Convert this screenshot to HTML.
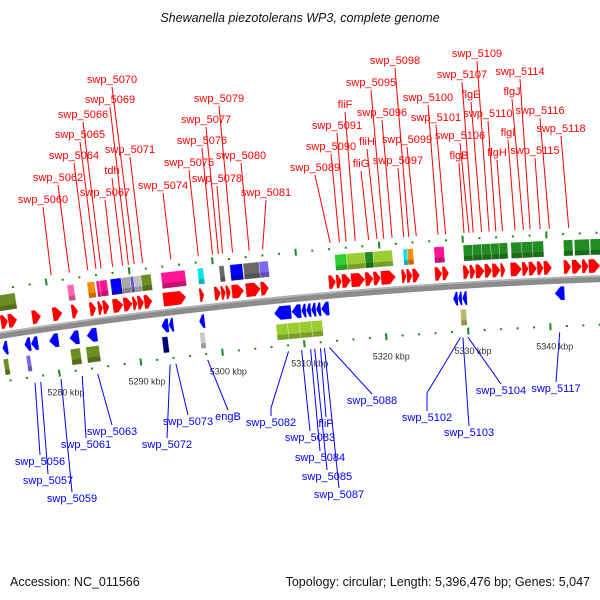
<!DOCTYPE html>
<html><head><meta charset="utf-8"><style>
html,body{margin:0;padding:0;background:#fff;}
svg{display:block;font-family:"Liberation Sans","DejaVu Sans",sans-serif;}
</style></head><body>
<svg id="map" width="600" height="600" viewBox="0 0 600 600">
<text x="300" y="22" text-anchor="middle" font-size="12.5" font-style="italic" fill="#111">Shewanella piezotolerans WP3, complete genome</text>
<g id="track"></g>
<g id="labels"></g>
<text x="10" y="586" font-size="12.5" fill="#111">Accession: NC_011566</text>
<text x="590" y="586" text-anchor="end" font-size="12.5" fill="#111">Topology: circular; Length: 5,396,476 bp; Genes: 5,047</text>
</svg>
<script>
// forward-strand genes (kbp)
const fwdStart=[5273.9,5274.8,5277.7,5280.2,5282.5,5284.7,5285.7,5286.3,5287.5,5288.8,5289.9,5290.5,5291.3,5293.6,5298.0,5299.8,5300.6,5301.2,5301.9,5303.6,5305.4,5313.6,5314.5,5315.2,5316.3,5318.0,5319.0,5319.9,5322.4,5323.0,5323.7,5326.4,5327.3,5329.8,5330.6,5331.3,5332.4,5333.3,5334.3,5335.5,5336.9,5337.7,5338.7,5339.5,5341.9,5342.9,5344.1,5344.9];
const fwdEnd=[5274.8,5275.9,5278.8,5281.4,5283.3,5285.5,5286.3,5287.1,5288.8,5289.9,5290.5,5291.3,5292.3,5296.4,5298.6,5300.6,5301.2,5301.8,5303.4,5305.4,5306.4,5314.5,5315.2,5316.3,5318.0,5319.0,5319.9,5321.7,5323.0,5323.7,5324.6,5327.3,5328.1,5330.6,5331.3,5332.4,5333.3,5334.3,5334.9,5336.9,5337.7,5338.7,5339.5,5340.5,5342.8,5344.1,5344.9,5346.3];
// reverse-strand genes (kbp)
const revStart=[5273.6,5276.3,5277.1,5279.3,5281.8,5283.9,5293.0,5293.9,5297.6,5306.7,5308.8,5310.0,5310.6,5311.2,5311.8,5312.4,5328.4,5329.0,5329.5,5340.7];
const revEnd=[5274.3,5277.1,5278.0,5280.5,5283.0,5285.2,5293.9,5294.5,5298.3,5308.8,5310.0,5310.6,5311.2,5311.8,5312.4,5313.4,5329.0,5329.5,5330.1,5341.9];
// COG boxes
const fBoxStart=[5274.0,5282.4,5284.8,5285.9,5286.3,5287.6,5288.9,5290.0,5290.4,5291.3,5293.7,5298.1,5300.7,5302.0,5303.6,5305.5,5314.6,5316.0,5318.2,5319.2,5322.8,5323.3,5326.5,5330.0,5331.1,5332.2,5333.3,5334.3,5335.7,5337.0,5338.3,5342.0,5343.3,5345.2];
const fBoxEnd=[5276.1,5283.2,5285.7,5286.3,5287.2,5288.9,5290.0,5290.4,5291.3,5292.5,5296.6,5298.8,5301.3,5303.5,5305.5,5306.6,5316.0,5318.2,5319.2,5321.5,5323.3,5324.0,5327.7,5331.1,5332.2,5333.3,5334.3,5335.3,5337.0,5338.3,5339.6,5343.1,5345.1,5346.6];
const fBoxColor=["#6b8e23","#ff69b4","#ff8c00","#ff1493","#ff1493","#0000ff","#a9a9a9","#6a5acd","#c0c0c0","#6b8e23","#ff1493","#00e5ee","#696969","#0000ff","#696969","#7b68ee","#32cd32","#9acd32","#228b22","#9acd32","#00e5ee","#ff8c00","#ff1493","#228b22","#228b22","#228b22","#228b22","#228b22","#228b22","#228b22","#228b22","#228b22","#228b22","#228b22"];
const rBoxStart=[5273.5,5276.3,5281.7,5283.6,5292.9,5297.5,5306.8,5308.2,5309.6,5311.1,5329.2];
const rBoxEnd=[5274.1,5276.8,5282.9,5285.2,5293.6,5298.1,5308.2,5309.6,5311.1,5312.4,5329.9];
const rBoxColor=["#6b8e23","#7b68ee","#6b8e23","#6b8e23","#000080","#c8c8c8","#9acd32","#9acd32","#9acd32","#9acd32","#bdb76b"];
// scale ticks
const tickKbp=[5280,5290,5300,5310,5320,5330,5340];
const tickLabels=["5280 kbp","5290 kbp","5300 kbp","5310 kbp","5320 kbp","5330 kbp","5340 kbp"];
// top (forward) labels
const topNames=["swp_5060","swp_5062","swp_5064","swp_5065","swp_5066","swp_5067","tdh","swp_5069","swp_5070","swp_5071","swp_5074","swp_5075","swp_5076","swp_5077","swp_5078","swp_5079","swp_5080","swp_5081","swp_5089","swp_5090","swp_5091","fliF","fliG","fliH","swp_5095","swp_5096","swp_5097","swp_5098","swp_5099","swp_5100","swp_5101","flgB","swp_5106","swp_5107","flgE","swp_5109","swp_5110","flgH","flgI","flgJ","swp_5114","swp_5115","swp_5116","swp_5118"];
const topKbp=[5280.7,5282.9,5285.1,5286.1,5286.7,5288.1,5289.3,5290.0,5290.7,5291.7,5295.1,5298.4,5300.1,5300.8,5301.3,5302.5,5304.5,5306.1,5314.2,5315.3,5316.1,5317.2,5318.8,5319.8,5320.6,5321.6,5323.0,5323.6,5324.5,5327.1,5328.0,5330.2,5330.8,5331.3,5332.3,5333.2,5334.0,5334.8,5336.3,5337.3,5338.1,5339.3,5340.4,5342.7];
const topX=[43,58,74,80,83,105,112,110,112,130,163,189,202,206,217,219,241,266,315,331,337,345,361,367,371,382,398,395,407,428,436,459,460,462,471,477,488,497,508,512,520,535,540,561];
const topY=[203,181,159,138,118,196,174,103,83,153,189,166,144,123,182,102,159,196,171,150,129,108,167,145,86,116,164,64,143,101,121,159,139,78,98,57,117,156,136,95,75,154,114,132];
// bottom (reverse) labels
const botNames=["swp_5056","swp_5057","swp_5059","swp_5061","swp_5063","swp_5072","swp_5073","engB","swp_5082","swp_5083","swp_5084","swp_5085","fliP","swp_5087","swp_5088","swp_5102","swp_5103","swp_5104","swp_5117"];
const botKbp=[5276.9,5277.6,5280.1,5282.7,5284.6,5293.5,5294.2,5298.1,5308.0,5309.6,5310.7,5311.2,5311.9,5312.4,5313.0,5329.0,5329.3,5329.9,5341.1];
const botX=[40,48,72,86,112,167,188,228,271,310,320,327,326,339,372,427,469,501,556];
const botY=[465,484,502,448,435,448,425,420,426,441,461,480,427,498,404,421,436,394,392];
const botBend=[0,0,0,0,0,0,0,0,8,0,0,0,0,0,0,18,0,0,0];

const NS="http://www.w3.org/2000/svg";
const R=5000, PX=8.3, S=Math.sin(5.4*Math.PI/180), Cc=Math.cos(5.4*Math.PI/180);
const CX=300+R*S, CY=298+R*Cc;
const A0=Math.atan2(298-CY,300-CX);
function pt(k,v){const a=A0+(k-5310)*PX/R;const r=R-v;return [CX+r*Math.cos(a),CY+r*Math.sin(a)];}
function poly(pts){return pts.map(p=>p[0].toFixed(2)+","+p[1].toFixed(2)).join(" ");}
const track=document.getElementById('track');
const labels=document.getElementById('labels');
function mk(tag,attrs,parent){const e=document.createElementNS(NS,tag);for(const a in attrs)e.setAttribute(a,attrs[a]);parent.appendChild(e);return e;}

// backbone
(function(){const top=[],bot=[];for(let k=5270;k<=5350;k+=0.5){top.push(pt(k,-3.5));bot.push(pt(k,3.5));}
const e=mk('polygon',{points:poly(top.concat(bot.reverse())),fill:'#8c8c8c'},track);


const hl=[];for(let k=5270;k<=5350;k+=0.5)hl.push(pt(k,-2.5));
const h=mk('polyline',{points:poly(hl),fill:'none',stroke:'#b5b5b5','stroke-width':1.5},track);

})();

// dots
for(let k=5272;k<=5348;k+=2){for(const v of [-46,46]){
 const big=(k%10===0);const len=big?3.5:1;
 const p1=pt(k,v-len),p2=pt(k,v+len);
 const d=mk('line',{x1:p1[0],y1:p1[1],x2:p2[0],y2:p2[1],stroke:'#1a8a1a','stroke-width':2},track);
 
 }}

// tick labels
tickKbp.forEach((k,i)=>{const p=pt(k+0.4,69);
 const t=mk('text',{x:p[0],y:p[1],'text-anchor':'middle','font-size':9,fill:'#333'},track);t.textContent=tickLabels[i];
 
 });

function box(k1,k2,v1,v2,col,name){
 const e=mk('polygon',{points:poly([pt(k1,v1),pt(k2,v1),pt(k2,v2),pt(k1,v2)]),fill:col,stroke:'rgba(255,255,255,0.6)','stroke-width':0.5},track);
 
 
 const sh=mk('polygon',{points:poly([pt(k1,v2-5),pt(k2,v2-5),pt(k2,v2),pt(k1,v2)]),fill:'#000','fill-opacity':0.22},track);
 
 }
fBoxStart.forEach((s,i)=>box(s,fBoxEnd[i],-40,-24,fBoxColor[i],'forward-cog-box'));
rBoxStart.forEach((s,i)=>box(s,rBoxEnd[i],24,40,rBoxColor[i],'reverse-cog-box'));

function arrow(k1,k2,v1,v2,dir,col,name){
 const vm=(v1+v2)/2;const len=k2-k1;const hd=Math.min(6/PX,len*0.6);let pts;
 if(dir>0){pts=[pt(k1,v1),pt(k2-hd,v1),pt(k2,vm),pt(k2-hd,v2),pt(k1,v2)];}
 else{pts=[pt(k2,v1),pt(k1+hd,v1),pt(k1,vm),pt(k1+hd,v2),pt(k2,v2)];}
 const e=mk('polygon',{points:poly(pts),fill:col,stroke:'#fff','stroke-width':0.4},track);
 
 }
fwdStart.forEach((s,i)=>arrow(s,fwdEnd[i],-20,-6,1,'#ff0000','forward-gene'));
revStart.forEach((s,i)=>arrow(s,revEnd[i],6,20,-1,'#0000ff','reverse-gene'));

// top labels
topNames.forEach((n,i)=>{const e=pt(topKbp[i],-52);
 const l=mk('line',{x1:topX[i],y1:topY[i]+4,x2:e[0],y2:e[1],stroke:'#ff0000','stroke-width':1},labels);
 
 
 const t=mk('text',{x:topX[i],y:topY[i],'text-anchor':'middle','font-size':11,fill:'#ff0000'},labels);t.textContent=n;
 
 });
botNames.forEach((n,i)=>{const e=pt(botKbp[i],52);const y0=botY[i]-10;
 const pts=[[botX[i],y0]];if(botBend[i])pts.push([botX[i],y0-botBend[i]]);pts.push(e);
 const l=mk('polyline',{points:poly(pts),fill:'none',stroke:'#0000ff','stroke-width':1},labels);
 
 
 const t=mk('text',{x:botX[i],y:botY[i],'text-anchor':'middle','font-size':11,fill:'#0000ff'},labels);t.textContent=n;
 
 });
</script>
</body></html>
